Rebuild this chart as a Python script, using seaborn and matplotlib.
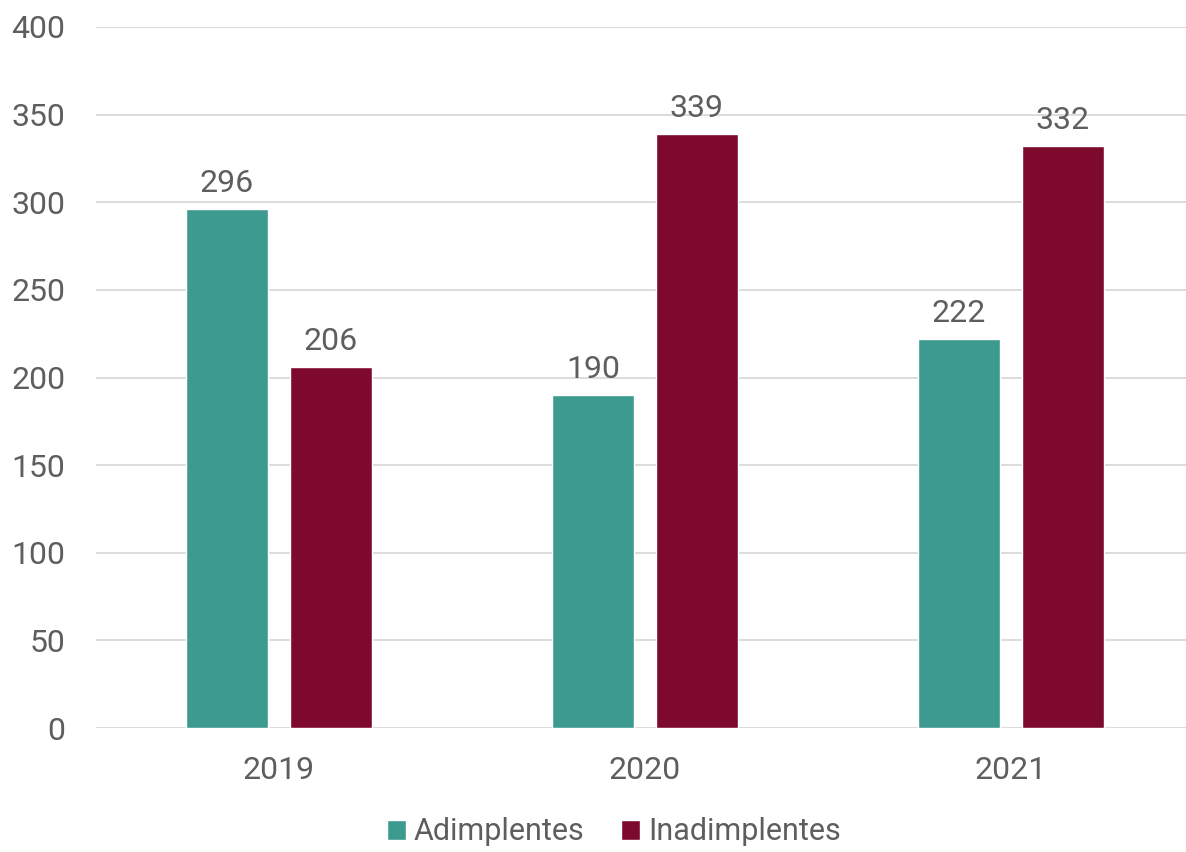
import matplotlib
matplotlib.use("Agg")
import matplotlib.pyplot as plt
import seaborn as sns
import pandas as pd

years = ["2019", "2020", "2021"]
series = ["Adimplentes", "Inadimplentes"]
adimplentes = [296, 190, 222]
inadimplentes = [206, 339, 332]
yticks = [0, 50, 100, 150, 200, 250, 300, 350, 400]

colors = ["#3D9A8E", "#7D0A2D"]
text_color = "#5E5E5E"

sns.set_theme(style="white")
plt.rcParams['font.family'] = ['Roboto', 'DejaVu Sans']
plt.rcParams['font.weight'] = 'normal'

df = pd.DataFrame({
    "Ano": years * 2,
    "Série": [series[0]] * 3 + [series[1]] * 3,
    "Valor": adimplentes + inadimplentes,
})

fig = plt.figure(figsize=(11.86, 8.52), dpi=100)
ax = fig.add_axes([96/1186, 1 - 728/852, 1 - 96/1186, (728 - 27)/852])

sns.barplot(data=df, x="Ano", y="Valor", hue="Série", palette=colors,
            width=0.568, gap=0.21, ax=ax, legend=True, saturation=1)

ax.set_ylim(0, 400)
ax.set_xlim(-0.5, 2.5 - 8/366)
ax.set_yticks(yticks)
ax.yaxis.grid(True, color="#D9D9D9", linewidth=1.3)
ax.set_axisbelow(True)
for s in ax.spines.values():
    s.set_visible(False)
ax.set_xlabel("")
ax.set_ylabel("")
ax.tick_params(axis="y", labelsize=23, labelcolor=text_color, length=0, pad=22)
ax.tick_params(axis="x", labelsize=23, labelcolor=text_color, length=0, pad=20)

for cont in ax.containers:
    ax.bar_label(cont, fmt="%d", padding=8, fontsize=23, color=text_color)

ax.legend(loc="center", bbox_to_anchor=(614/1186, 1 - 832/852),
          bbox_transform=fig.transFigure, ncol=2,
          frameon=False, fontsize=22, labelcolor=text_color, handlelength=0.62,
          handleheight=0.62, handletextpad=0.25, columnspacing=1.2)

fig.savefig("out.png", dpi=100)
